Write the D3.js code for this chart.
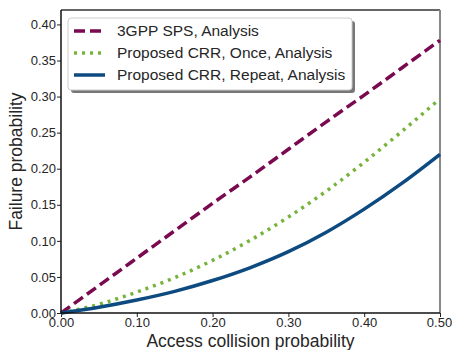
<!DOCTYPE html>
<html>
<head>
<meta charset="utf-8">
<script src="https://cdn.jsdelivr.net/npm/d3@7"></script>
<style>
  html, body { margin: 0; padding: 0; background: #fff; }
  svg { display: block; font-family: "Liberation Sans", Arial, sans-serif; }
</style>
</head>
<body>
<div id="chart"></div>
<script>
// ===== data =====
const xValues = [0, 0.05, 0.10, 0.15, 0.20, 0.25, 0.30, 0.35, 0.40, 0.45, 0.50];
const spsValues = [0, 0.038, 0.076, 0.114, 0.152, 0.189, 0.227, 0.265, 0.302, 0.340, 0.378];
const onceValues = [0, 0.012, 0.029, 0.049, 0.073, 0.101, 0.133, 0.169, 0.209, 0.252, 0.297];
const repeatValues = [0, 0.008, 0.018, 0.030, 0.045, 0.063, 0.085, 0.112, 0.144, 0.180, 0.220];
const seriesNames = ['3GPP SPS, Analysis', 'Proposed CRR, Once, Analysis', 'Proposed CRR, Repeat, Analysis'];
const xTicks = [0, 0.1, 0.2, 0.3, 0.4, 0.5];
const yTicks = [0, 0.05, 0.10, 0.15, 0.20, 0.25, 0.30, 0.35, 0.40];

const W = 452, H = 350;
const margin = { left: 61, right: 12, top: 10, bottom: 37 };

const svg = d3.select('#chart').append('svg')
    .attr('width', W)
    .attr('height', H);

const x = d3.scaleLinear().domain([0, 0.5]).range([margin.left, W - margin.right]);
const y = d3.scaleLinear().domain([0, 0.42]).range([H - margin.bottom, margin.top]);

// axes
const xAxis = svg.append('g')
    .attr('transform', `translate(0,${H - margin.bottom})`)
    .call(d3.axisBottom(x).tickValues(xTicks).tickFormat(d3.format('.2f')).tickSize(4).tickPadding(1));
const yAxis = svg.append('g')
    .attr('transform', `translate(${margin.left},0)`)
    .call(d3.axisLeft(y).tickValues(yTicks).tickFormat(d3.format('.2f')).tickSize(4).tickPadding(1));

[xAxis, yAxis].forEach(a => {
    a.select('.domain').remove();
    a.selectAll('line').attr('stroke', '#222').attr('stroke-width', 1);
    a.selectAll('text').attr('fill', '#262626').style('font-size', '13px');
});
// keep the last x label inside the window
xAxis.selectAll('text').filter(d => d === 0.5).attr('dx', '-1px');

// frame
svg.append('line').attr('x1', x(0)).attr('x2', x(0.5)).attr('y1', y(0.42)).attr('y2', y(0.42))
    .attr('stroke', '#333').attr('stroke-width', 1.5);
svg.append('line').attr('x1', x(0.5)).attr('x2', x(0.5)).attr('y1', y(0.42)).attr('y2', y(0))
    .attr('stroke', '#888').attr('stroke-width', 2);

// lines
const series = [
    { name: seriesNames[0], values: spsValues, color: '#7a0a50', dash: '11,5' },
    { name: seriesNames[1], values: onceValues, color: '#76b33a', dash: '3,5' },
    { name: seriesNames[2], values: repeatValues, color: '#0d4a80', dash: null }
];

const line = d3.line()
    .x((d, i) => x(xValues[i]))
    .y(d => y(d))
    .curve(d3.curveMonotoneX);

series.forEach(s => {
    svg.append('path')
        .datum(s.values)
        .attr('fill', 'none')
        .attr('stroke', s.color)
        .attr('stroke-width', 3.5)
        .attr('stroke-dasharray', s.dash)
        .attr('d', line);
});

svg.append('line').attr('x1', x(0)).attr('x2', x(0)).attr('y1', y(0.42)).attr('y2', y(0))
    .attr('stroke', '#111').attr('stroke-width', 1.5);
svg.append('line').attr('x1', x(0)).attr('x2', x(0.5)).attr('y1', y(0)).attr('y2', y(0))
    .attr('stroke', '#111').attr('stroke-width', 1.5);

// axis titles
svg.append('text')
    .attr('x', (x(0) + x(0.5)) / 2).attr('y', 347)
    .attr('text-anchor', 'middle')
    .attr('fill', '#262626')
    .style('font-size', '17.5px')
    .text('Access collision probability');
svg.append('text')
    .attr('transform', `translate(22,${(y(0) + y(0.42)) / 2}) rotate(-90)`)
    .attr('text-anchor', 'middle')
    .attr('fill', '#262626')
    .style('font-size', '17.5px')
    .text('Failure probability');

// legend
const lg = svg.append('g').attr('transform', 'translate(68,18)');
lg.append('rect')
    .attr('x', 3).attr('y', 3).attr('width', 284).attr('height', 72).attr('rx', 3)
    .attr('fill', '#777');
lg.append('rect')
    .attr('x', 0).attr('y', 0).attr('width', 284).attr('height', 72).attr('rx', 3)
    .attr('fill', '#fff').attr('stroke', '#ccc').attr('stroke-width', 1);
series.forEach((s, i) => {
    const ry = 13 + i * 22;
    lg.append('line')
        .attr('x1', 6).attr('x2', 37).attr('y1', ry).attr('y2', ry)
        .attr('stroke', s.color).attr('stroke-width', 3.5)
        .attr('stroke-dasharray', s.dash);
    lg.append('text')
        .attr('x', 49).attr('y', ry + 5)
        .attr('fill', '#262626')
        .style('font-size', '15.5px')
        .text(s.name);
});
</script>
</body>
</html>
